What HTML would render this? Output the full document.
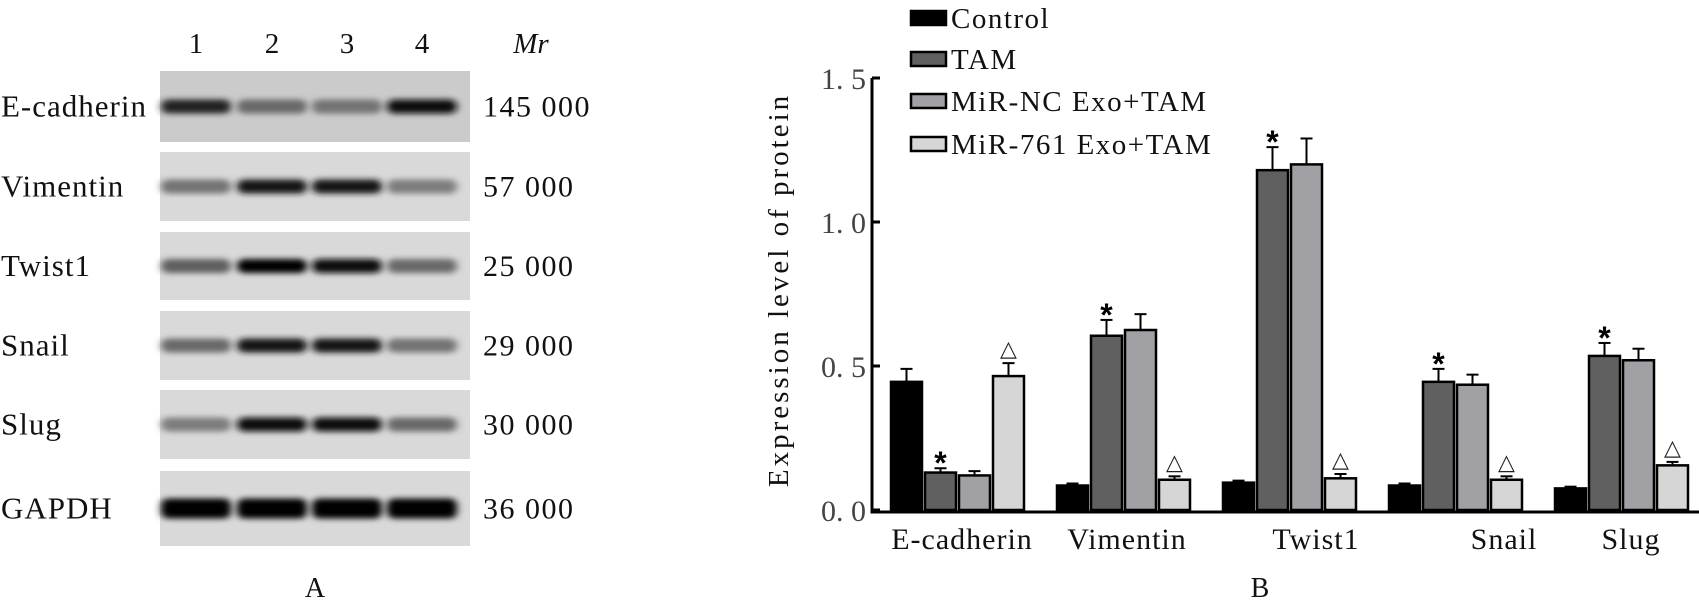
<!DOCTYPE html>
<html><head><meta charset="utf-8"><style>
body{margin:0;width:1699px;height:600px;background:#fff;overflow:hidden;font-family:"Liberation Serif",serif}
svg{position:absolute;left:0;top:0}
</style></head><body>
<svg id="s" width="1699" height="600">
<defs><filter id="bl" x="-30%" y="-150%" width="160%" height="400%"><feGaussianBlur stdDeviation="4 3"/></filter></defs>
<g id="blot"></g>
<g id="chart"></g>
</svg>
<script>
const NS="http://www.w3.org/2000/svg";
function mk(tag,attrs,parent,text){const e=document.createElementNS(NS,tag);for(const k in attrs)e.setAttribute(k,attrs[k]);if(text!==undefined)e.textContent=text;parent.appendChild(e);return e;}
// ---- Blot ----
const proteins=["E-cadherin","Vimentin","Twist1","Snail","Slug","GAPDH"];
const mw=["145 000","57 000","25 000","29 000","30 000","36 000"];
const lanes=["1","2","3","4"];
const intensity=[[0.85,0.5,0.45,0.95],[0.45,0.9,0.92,0.4],[0.55,1,0.97,0.5],[0.5,0.92,0.92,0.45],[0.4,0.97,0.95,0.5],[1,1,1,1]];
const blot=document.getElementById('blot');
const rowTop=[71,152,232,311,390,471],rowH=[71,69,68,69,69,75],laneX=[196,272,347,422];
lanes.forEach((l,i)=>{const t=mk('text',{x:laneX[i],y:53,'text-anchor':'middle','font-size':29,fill:'#111'},blot,l);
});
const mr=mk('text',{x:531,y:53,'text-anchor':'middle','font-size':29,'font-style':'italic',fill:'#111'},blot,'Mr');

proteins.forEach((p,r)=>{
 const y=rowTop[r],h=rowH[r],cy=y+h/2;
 const bg=mk('rect',{x:160,y:y,width:310,height:h,fill:r==0?'#cbcbcb':'#d9d9d9'},blot);
 
 intensity[r].forEach((v,i)=>{const g=Math.round(205-200*v);
  const b=mk('rect',{x:laneX[i]-35,y:cy-(r==5?10:7),width:70,height:r==5?20:14,rx:7,fill:`rgb(${g},${g},${g})`,filter:'url(#bl)'},blot);
  });
 const t=mk('text',{x:1,y:cy+10,'font-size':31,fill:'#111','letter-spacing':1},blot,p);
 
 const m=mk('text',{x:483,y:cy+10,'font-size':30,fill:'#111','letter-spacing':1.5},blot,mw[r]);
 
});
const A=mk('text',{x:315,y:597,'text-anchor':'middle','font-size':28,fill:'#111'},blot,'A');

// ---- Chart ----
const categories=["E-cadherin","Vimentin","Twist1","Snail","Slug"];
const seriesNames=["Control","TAM","MiR-NC Exo+TAM","MiR-761 Exo+TAM"];
const control=[0.445,0.085,0.095,0.085,0.075];
const tam=[0.13,0.605,1.18,0.445,0.535];
const mirNC=[0.12,0.625,1.2,0.435,0.52];
const mir761=[0.465,0.105,0.11,0.105,0.155];
const controlErr=[0.045,0.007,0.007,0.007,0.006];
const tamErr=[0.015,0.055,0.08,0.045,0.045];
const mirNCErr=[0.015,0.055,0.09,0.035,0.04];
const mir761Err=[0.045,0.012,0.015,0.012,0.012];
const tamMark=["*","*","*","*","*"];
const mir761Mark=["△","△","△","△","△"];
const yTicks=[0,0.5,1.0,1.5];
const yTickLabels=["0. 0","0. 5","1. 0","1. 5"];
const C=document.getElementById('chart');
const y0=510,yTop=78,yMax=1.5;
const ys=v=>y0-(y0-yTop)*v/yMax;
const gx=i=>891+i*166, bw=31, step=34;
const colors=["#000","#606060","#a0a0a5","#d6d6d6"];
const vals=[control,tam,mirNC,mir761],errs=[controlErr,tamErr,mirNCErr,mir761Err];
const labelX=[962,1127,1316,1504,1631];
categories.forEach((c,i)=>{
 vals.forEach((s,k)=>{
  const x=gx(i)+k*step,v=s[i],e=errs[k][i];
  const el=mk('line',{x1:x+bw/2,x2:x+bw/2,y1:ys(v),y2:ys(v+e),stroke:'#000','stroke-width':2},C);
  
  const cap=mk('line',{x1:x+bw/2-6,x2:x+bw/2+6,y1:ys(v+e),y2:ys(v+e),stroke:'#000','stroke-width':2},C);
  
  const b=mk('rect',{x:x,y:ys(v),width:bw,height:y0-ys(v),fill:colors[k],stroke:'#000','stroke-width':2.5},C);
  
 });
 let x=gx(i)+step+bw/2;
 const s=mk('text',{x:x,y:ys(tam[i]+tamErr[i])+6,'text-anchor':'middle','font-size':32,'font-weight':'bold','font-family':'Liberation Sans, sans-serif',fill:'#000'},C,tamMark[i]);
 
 x=gx(i)+3*step+bw/2;
 const d=mk('text',{x:x,y:ys(mir761[i]+mir761Err[i])-7,'text-anchor':'middle','font-size':22,'font-family':'Liberation Sans, DejaVu Sans, sans-serif',fill:'#222'},C,mir761Mark[i]);
 
 const t=mk('text',{x:labelX[i],y:549,'text-anchor':'middle','font-size':30,fill:'#111','letter-spacing':1},C,c);
 
});
const ax=mk('path',{d:`M872 ${yTop} V${y0+2} H1699`,fill:'none',stroke:'#000','stroke-width':3},C);

yTicks.forEach((v,i)=>{
 const tk=mk('line',{x1:872,x2:880,y1:ys(v),y2:ys(v),stroke:'#000','stroke-width':3},C);
 
 const t=mk('text',{x:866,y:ys(v)+11,'text-anchor':'end','font-size':30,fill:'#444'},C,yTickLabels[i]);
 
});
const yt=mk('text',{x:0,y:0,transform:'translate(788,290) rotate(-90)','text-anchor':'middle','font-size':29,fill:'#111','letter-spacing':3},C,'Expression level of protein');

const legY=[11,52,94,137];
seriesNames.forEach((n,k)=>{
 const r=mk('rect',{x:911,y:legY[k],width:35,height:14,fill:colors[k],stroke:'#000','stroke-width':2.5},C);
 
 const t=mk('text',{x:951,y:legY[k]+17,'font-size':29,fill:'#111','letter-spacing':1.5},C,n);
 
});
const B=mk('text',{x:1260,y:597,'text-anchor':'middle','font-size':28,fill:'#111'},C,'B');

</script>
</body></html>
